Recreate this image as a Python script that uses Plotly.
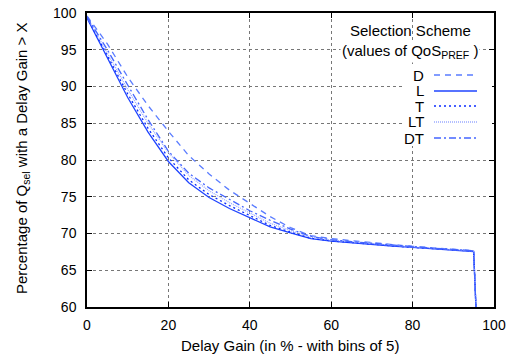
import plotly.graph_objects as go

delay_gain = [0, 5, 10, 15, 20, 25, 30, 35, 40, 45, 50, 55, 60, 65, 70, 75, 80, 85, 90, 95, 100]

pct_D = [99.6, 95.8, 91.3, 87.4, 83.9, 80.6, 78.1, 75.9, 74.1, 72.3, 70.8, 69.7, 69.3, 69.0, 68.7, 68.5, 68.25, 68.05, 67.85, 67.65, 0]
pct_L = [99.3, 93.8, 88.5, 83.8, 79.8, 76.9, 74.9, 73.4, 72.2, 70.9, 70.1, 69.3, 68.95, 68.7, 68.5, 68.3, 68.1, 67.9, 67.75, 67.55, 0]
pct_T = [99.4, 94.2, 89.0, 84.3, 80.3, 77.3, 75.3, 73.8, 72.5, 71.1, 70.2, 69.35, 69.0, 68.75, 68.55, 68.35, 68.1, 67.95, 67.8, 67.6, 0]
pct_LT = [99.5, 94.6, 89.6, 85.0, 81.0, 77.9, 75.8, 74.2, 72.8, 71.4, 70.4, 69.5, 69.1, 68.85, 68.6, 68.4, 68.15, 68.0, 67.8, 67.6, 0]
pct_DT = [99.5, 95.0, 90.2, 85.5, 81.2, 78.2, 76.2, 74.6, 73.1, 71.8, 70.6, 69.6, 69.15, 68.9, 68.65, 68.45, 68.2, 68.0, 67.85, 67.65, 0]

series_names = ["D", "L", "T", "LT", "DT"]
series_values = [pct_D, pct_L, pct_T, pct_LT, pct_DT]
series_colors = ["#5a7cff", "#1f44ff", "#0a2cff", "#9aaaff", "#4466ff"]
series_dash = ["6px,5px", "solid", "2px,3px", "1px,1px", "7px,3px,2px,3px"]

FONT = "Liberation Sans, Arial, Helvetica, sans-serif"

fig = go.Figure()
for name, vals, col, dash in zip(series_names, series_values, series_colors, series_dash):
    fig.add_trace(go.Scatter(x=delay_gain, y=vals, mode="lines", name=name,
                             line=dict(color=col, width=1.3, dash=dash), showlegend=False))

axis_common = dict(showline=True, linecolor="black", linewidth=1.5, mirror="ticks",
                   ticks="inside", ticklen=5, tickcolor="black", tickwidth=1,
                   showgrid=True, gridcolor="#777777", griddash="dot", gridwidth=1,
                   zeroline=False, automargin=False,
                   tickfont=dict(size=14, color="black", family=FONT))

fig.update_xaxes(range=[0, 100], dtick=20, tick0=0, ticklabelstandoff=4, **axis_common)
fig.update_yaxes(range=[60, 100], dtick=5, tick0=60, ticklabelstandoff=6, **axis_common)

L, R, T, B = 87, 19, 13, 50
W, H = 513, 357
pw, ph = W - L - R, H - T - B

def px_to_paper(x, y):
    return (x - L) / pw, (H - B - y) / ph

shapes = []
annotations = []

# axis titles
ax, ay = px_to_paper(290, 345)
annotations.append(dict(text="Delay Gain (in % - with bins of 5)", x=ax, y=ay, xref="paper", yref="paper",
                        showarrow=False, xanchor="center", yanchor="middle",
                        font=dict(size=15, color="black", family=FONT)))
ax, ay = px_to_paper(22, 158)
annotations.append(dict(text="Percentage of Q<sub>sel</sub> with a Delay Gain > X", x=ax, y=ay,
                        xref="paper", yref="paper", textangle=-90,
                        showarrow=False, xanchor="center", yanchor="middle",
                        font=dict(size=15, color="black", family=FONT)))

# legend backdrop
x0, y0 = px_to_paper(404, 66)
x1, y1 = px_to_paper(492, 146)
shapes.append(dict(type="rect", xref="paper", yref="paper", x0=x0, x1=x1, y0=y1, y1=y0,
                   fillcolor="white", line=dict(width=0), layer="above"))

tx, ty = px_to_paper(410, 31)
annotations.append(dict(text="Selection Scheme", x=tx, y=ty, xref="paper", yref="paper",
                        showarrow=False, xanchor="center", yanchor="middle",
                        font=dict(size=15, color="black", family=FONT)))
tx, ty = px_to_paper(410, 51)
annotations.append(dict(text="(values of QoS<sub>PREF</sub> )", x=tx, y=ty, xref="paper", yref="paper",
                        showarrow=False, xanchor="center", yanchor="middle", bgcolor="white",
                        font=dict(size=15, color="black", family=FONT)))

key_y = [75, 91, 106, 122, 138]
for name, col, dash, ky in zip(series_names, series_colors, series_dash, key_y):
    lx, ly = px_to_paper(426, ky)
    annotations.append(dict(text=name, x=lx, y=ly, xref="paper", yref="paper",
                            showarrow=False, xanchor="right", yanchor="middle",
                            font=dict(size=15, color="black", family=FONT)))
    sx0, sy = px_to_paper(434, ky)
    sx1, _ = px_to_paper(477, ky)
    shapes.append(dict(type="line", xref="paper", yref="paper", x0=sx0, x1=sx1, y0=sy, y1=sy,
                       line=dict(color=col, width=1.3, dash=dash), layer="above"))

fig.update_layout(width=W, height=H, margin=dict(l=L, r=R, t=T, b=B, autoexpand=False),
                  paper_bgcolor="white", plot_bgcolor="white",
                  font=dict(family=FONT, color="black"),
                  shapes=shapes, annotations=annotations)

fig.write_html("out.html", config={"displayModeBar": False},
               post_script="document.body.style.margin='0';document.body.style.padding='0';")
